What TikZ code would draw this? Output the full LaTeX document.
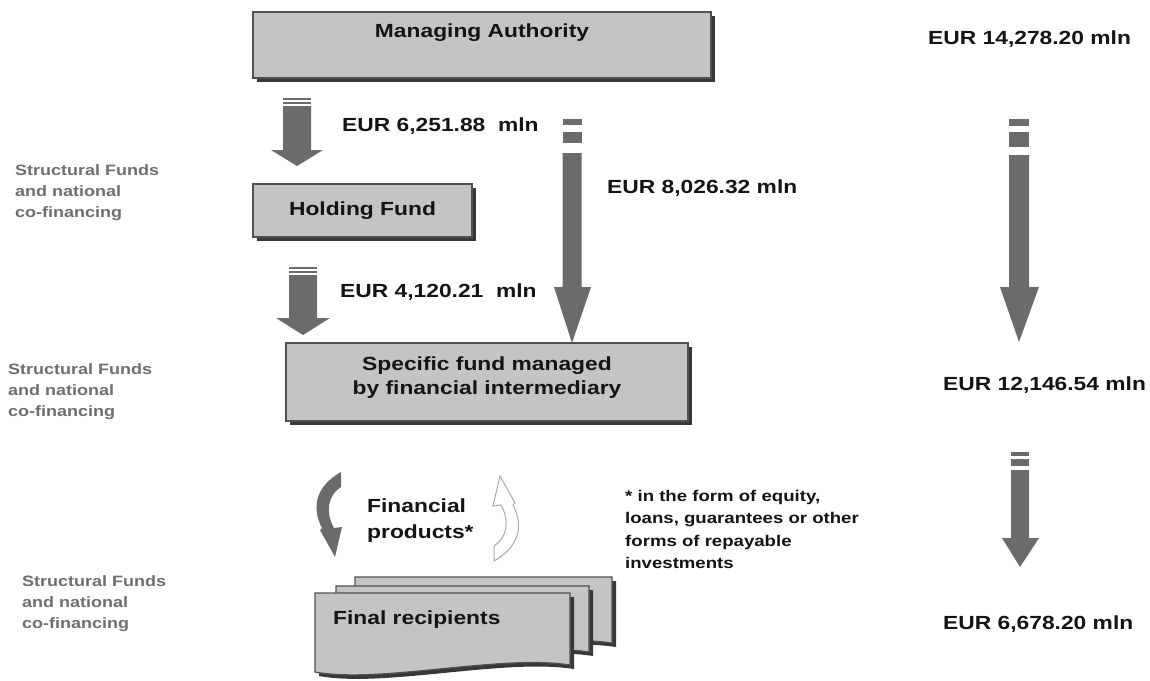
\documentclass[tikz,border=0pt]{standalone}
\usepackage{fontspec}
\setmainfont{Liberation Sans}[FakeStretch=1.2]
\usetikzlibrary{shadows}
\definecolor{boxfill}{HTML}{C4C4C4}
\definecolor{boxline}{HTML}{505050}
\definecolor{shadowc}{HTML}{383838}
\definecolor{arrowc}{HTML}{6B6B6B}
\definecolor{sidetext}{HTML}{6E6E6E}
\definecolor{outlinec}{HTML}{A8A8A8}
\definecolor{inkc}{HTML}{141414}
\newcommand\curlpath{(341,472) .. controls (318,485) and (310,505) .. (322,528) -- (320,530) -- (335,557) -- (342,527) -- (334,528) .. controls (325,512) and (328,495) .. (341,487) -- cycle}
\begin{document}
\begin{tikzpicture}[x=1pt,y=-1pt,
  fundshadow/.style={drop shadow={shadow xshift=4pt,shadow yshift=-4pt,opacity=1,fill=shadowc}},
  fundbox/.style={draw=boxline,line width=1.2pt,fill=boxfill,inner sep=0pt,fundshadow,
    text=inkc,font=\fontsize{19}{24}\selectfont\bfseries},
  amount/.style={anchor=base west,inner sep=0pt,text=inkc,font=\fontsize{19}{24}\selectfont\bfseries},
  sidenote/.style={anchor=north west,inner sep=0pt,align=left,text=sidetext,font=\fontsize{15}{21}\selectfont\bfseries},
  bandarrow/.style={fill=arrowc,draw=none},
  pagebox/.style={draw=boxline,line width=1.2pt,fill=boxfill,fundshadow},
]
\fill[white] (0,0) rectangle (1150,680);
\useasboundingbox (0,0) rectangle (1150,680);

% boxes
\node[fundbox,minimum width=458pt,text height=25.7pt,text depth=40.3pt] (MA) at (482,45) {Managing Authority};
\node[fundbox,minimum width=219pt,minimum height=53pt] (HF) at (362.5,210.5) {Holding Fund};
\node[fundbox,minimum width=402pt,minimum height=78pt,align=center,text depth=12pt] (SF) at (487,382) {Specific fund managed\\by financial intermediary};

% left arrow 1
\fill[bandarrow] (283,98) rectangle (311,100);
\fill[bandarrow] (283,102) rectangle (311,104);
\fill[bandarrow] (283,106) -- (311,106) -- (311,150) -- (323,150) -- (297,166) -- (271,150) -- (283,150) -- cycle;
% left arrow 2
\fill[bandarrow] (289,267) rectangle (317,269);
\fill[bandarrow] (289,271) rectangle (317,273);
\fill[bandarrow] (289,275) -- (317,275) -- (317,318) -- (330,318) -- (303,335) -- (276,318) -- (289,318) -- cycle;
% middle arrow
\fill[bandarrow] (562.5,119) rectangle (581.5,125);
\fill[bandarrow] (562.5,132) rectangle (581.5,143);
\fill[bandarrow] (562.5,153) -- (581.5,153) -- (581.5,287) -- (591,287) -- (572,343) -- (554,287) -- (562.5,287) -- cycle;
% right arrow 1
\fill[bandarrow] (1009,119) rectangle (1029,126);
\fill[bandarrow] (1009,132) rectangle (1029,147);
\fill[bandarrow] (1009,155) -- (1029,155) -- (1029,287) -- (1039,287) -- (1019,342) -- (1000,287) -- (1009,287) -- cycle;
% right arrow 2
\fill[bandarrow] (1011,452) rectangle (1029,456);
\fill[bandarrow] (1011,459) rectangle (1029,466);
\fill[bandarrow] (1011,470) -- (1029,470) -- (1029,538) -- (1039,538) -- (1020,567) -- (1002,538) -- (1011,538) -- cycle;

% amounts
\node[amount] (A0) at (928,44) {EUR 14,278.20 mln};
\node[amount] (A1) at (342,131) {EUR 6,251.88\ \ mln};
\node[amount] (A2) at (607,193) {EUR 8,026.32 mln};
\node[amount] (A3) at (340,297) {EUR 4,120.21\ \ mln};
\node[amount] (A4) at (943,390) {EUR 12,146.54 mln};
\node[amount] (A5) at (943,629) {EUR 6,678.20 mln};

% side notes
\node[sidenote] (S1) at (15,164) {Structural Funds\\and national\\co-financing};
\node[sidenote] (S2) at (8,363) {Structural Funds\\and national\\co-financing};
\node[sidenote] (S3) at (22,575) {Structural Funds\\and national\\co-financing};

% curved arrows
\fill[arrowc] \curlpath;
\begin{scope}[shift={(505,518)},rotate=180,shift={(-330,-515)}]
\filldraw[fill=white,draw=outlinec,line width=1pt] \curlpath;
\end{scope}
\node[anchor=north west,inner sep=0pt,align=left,text=inkc,font=\fontsize{19}{26}\selectfont\bfseries] (FP) at (367,499) {Financial\\products*};
\node[anchor=north west,inner sep=0pt,align=left,text=inkc,font=\fontsize{15.5}{22.5}\selectfont\bfseries] (FN) at (625,490) {* in the form of equity,\\loans, guarantees or other\\forms of repayable\\investments};

% final recipients pages
\draw[pagebox] (355,577) -- (612,577) -- (612,643) .. controls (540,632) and (420,662) .. (355,652) -- cycle;
\draw[pagebox] (336,586) -- (589,586) -- (589,652) .. controls (520,641) and (400,671) .. (336,661) -- cycle;
\draw[pagebox] (315,593) -- (570,593) -- (570,665) .. controls (500,654) and (380,684) .. (315,672) -- cycle;
\node[amount] (FR) at (333,624) {Final recipients};
\end{tikzpicture}
\end{document}
